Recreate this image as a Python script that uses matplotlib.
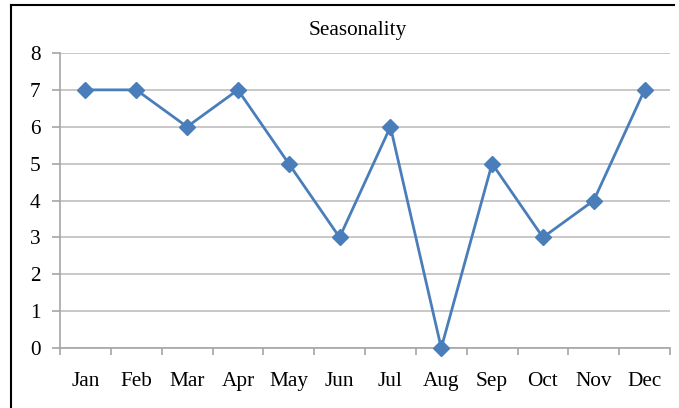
import matplotlib.pyplot as plt
from matplotlib.lines import Line2D

# data
months = ['Jan', 'Feb', 'Mar', 'Apr', 'May', 'Jun', 'Jul', 'Aug', 'Sep', 'Oct', 'Nov', 'Dec']
values = [7, 7, 6, 7, 5, 3, 6, 0, 5, 3, 4, 7]
yticks = [0, 1, 2, 3, 4, 5, 6, 7, 8]

plt.rcParams['font.family'] = ['Liberation Serif', 'DejaVu Serif']

fig = plt.figure(figsize=(6.79, 4.08), dpi=100)
ax = fig.add_axes([60 / 679, 1 - 348 / 408, 610 / 679, (348 - 53) / 408])

x = list(range(len(months)))
ax.plot(x, values, color='#4A7EBB', lw=2, marker='D', markersize=8.5,
        markerfacecolor='#4A7EBB', markeredgecolor='#4A7EBB', zorder=3, clip_on=False)

ax.set_xlim(-0.5, len(months) - 0.5)
ax.set_ylim(0, 8)
ax.set_yticks(yticks)
ax.set_yticklabels([str(v) for v in yticks], fontsize=15.3)
ax.set_xticks(x)
ax.set_xticklabels(months, fontsize=15.3)
ax.set_xticks([i - 0.5 for i in range(len(months) + 1)], minor=True)
ax.tick_params(axis='x', which='major', length=0, pad=17)
ax.tick_params(axis='x', which='minor', length=5, color='#A6A6A6', width=1.2, direction='out')
ax.tick_params(axis='y', length=6, color='#A6A6A6', width=1.2, pad=8)
ax.grid(axis='y', color='#BFBFBF', lw=1.2)
ax.set_axisbelow(True)
for s in ['top', 'right']:
    ax.spines[s].set_visible(False)
ax.spines['left'].set_color('#A6A6A6')
ax.spines['bottom'].set_color('#A6A6A6')
ax.spines['left'].set_linewidth(1.2)
ax.spines['bottom'].set_linewidth(1.2)

fig.text(358 / 679, 1 - 30 / 408, 'Seasonality', ha='center', va='center', fontsize=15.3)

# frame around chart (left and top visible)
fig.add_artist(Line2D([11 / 679, 11 / 679], [0, 1 - 5 / 408], color='black', lw=1.5,
                      transform=fig.transFigure))
fig.add_artist(Line2D([11 / 679, 674 / 679], [1 - 5 / 408, 1 - 5 / 408], color='black', lw=1.5,
                      transform=fig.transFigure))

fig.savefig('out.png', dpi=100)
